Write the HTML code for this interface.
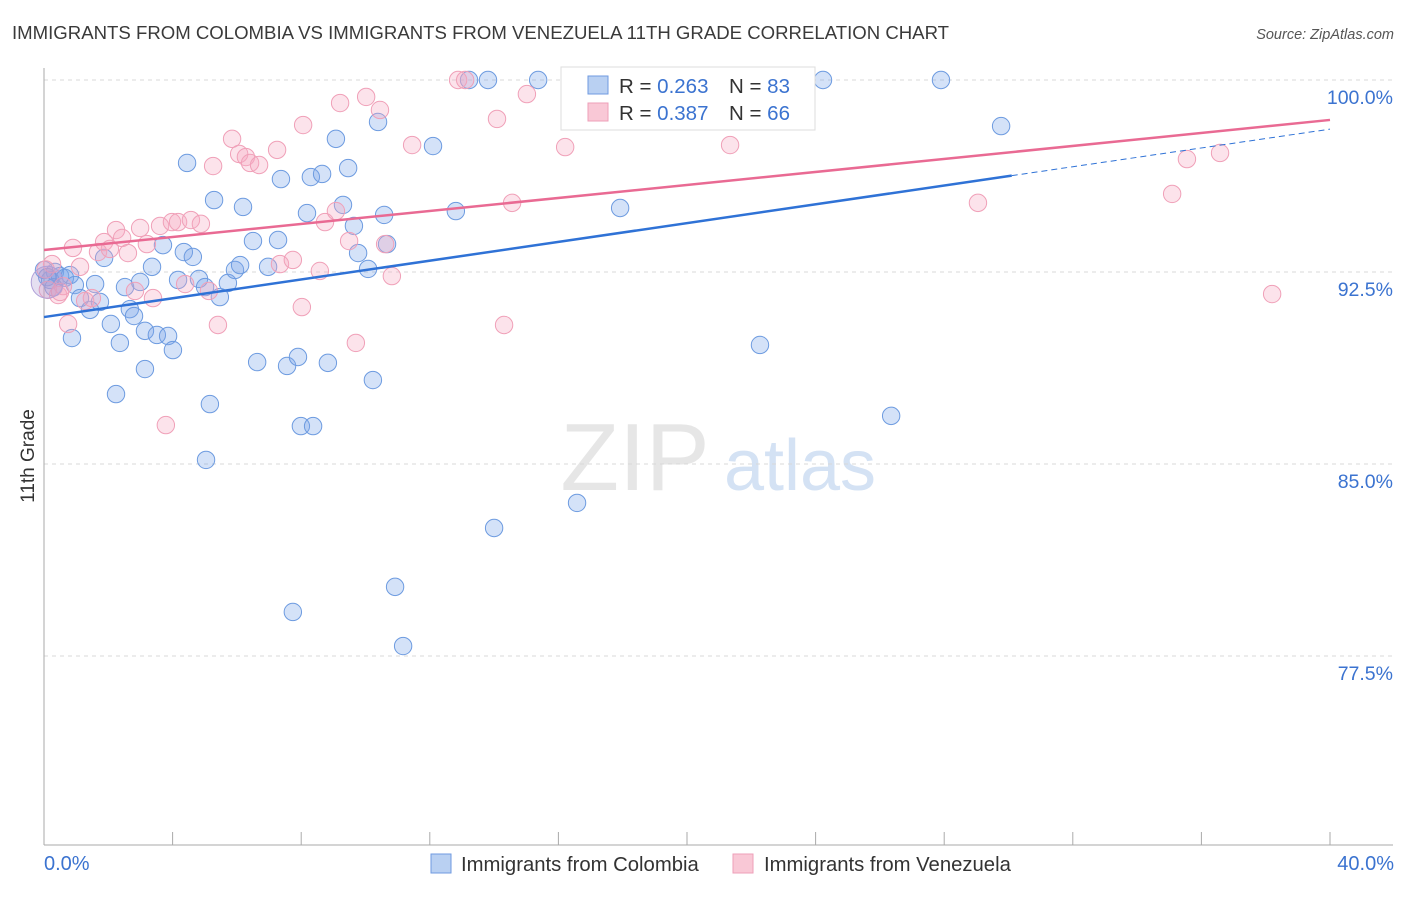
<!DOCTYPE html>
<html><head><meta charset="utf-8"><style>
body{margin:0;background:#fff;font-family:"Liberation Sans",sans-serif;}
svg text{font-family:"Liberation Sans",sans-serif;}
</style></head><body>
<svg id="chart" width="1406" height="892" viewBox="0 0 1406 892" xmlns="http://www.w3.org/2000/svg">
<text x="12" y="39" font-size="18.6" fill="#3a3a3a">IMMIGRANTS FROM COLOMBIA VS IMMIGRANTS FROM VENEZUELA 11TH GRADE CORRELATION CHART</text>
<text x="1394" y="39" font-size="14.5" fill="#555" text-anchor="end" font-style="italic">Source: ZipAtlas.com</text>
<g>
<text x="635" y="490" font-size="96" fill="#e6e6e6" font-family="Liberation Serif,serif" text-anchor="middle">ZIP</text>
<text x="800" y="490" font-size="72" fill="#d4e2f4" text-anchor="middle">atlas</text>
</g>
<g id="grid"></g>
<g id="axes"></g>
<g id="marks"></g>
<g id="lines"></g>
<text transform="translate(34,456) rotate(-90)" font-size="19" fill="#333" text-anchor="middle">11th Grade</text>
<text x="44" y="870" font-size="20" fill="#3b73d0">0.0%</text>
<text x="1394" y="870" font-size="20" fill="#3b73d0" text-anchor="end">40.0%</text>
<g>
<rect x="561" y="67" width="254" height="63" fill="#fff" stroke="#ddd"/>
<rect x="588" y="76" width="20" height="18" fill="#b9d0f2" stroke="#6f9ae0"/>
<rect x="588" y="103" width="20" height="18" fill="#f9c8d6" stroke="#ee9fb8"/>
<text x="619" y="93" font-size="20.5" fill="#333">R = <tspan fill="#3b73d0">0.263</tspan></text>
<text x="729" y="93" font-size="20.5" fill="#333">N = <tspan fill="#3b73d0">83</tspan></text>
<text x="619" y="120" font-size="20.5" fill="#333">R = <tspan fill="#3b73d0">0.387</tspan></text>
<text x="729" y="120" font-size="20.5" fill="#333">N = <tspan fill="#3b73d0">66</tspan></text>
</g>
<g>
<rect x="431" y="854" width="20" height="19" fill="#b9d0f2" stroke="#6f9ae0"/>
<text x="461" y="871" font-size="20.3" fill="#333">Immigrants from Colombia</text>
</g>
<g>
<rect x="733" y="854" width="20" height="19" fill="#f9c8d6" stroke="#ee9fb8"/>
<text x="764" y="871" font-size="20.3" fill="#333">Immigrants from Venezuela</text>
</g>
</svg>
<script>
const blueX=[0.19,0.34,0.5,0.65,0.81,0.96,1.59,1.12,1.43,1.74,0.87,1.87,2.08,2.24,2.36,2.52,2.67,2.8,2.99,3.14,3.36,3.51,3.7,3.86,4.01,3.14,4.17,4.35,4.45,4.63,4.82,5.01,5.16,5.04,5.29,5.47,5.72,5.94,6.1,6.19,6.5,6.63,6.97,7.28,7.37,7.56,7.74,7.9,7.99,8.18,8.37,8.3,8.65,8.83,9.08,9.3,9.46,9.64,9.77,10.08,10.23,10.39,10.58,10.67,10.92,11.17,12.1,12.81,13.22,13.81,14.0,15.37,16.58,17.92,21.65,22.27,24.23,26.35,27.9,29.77,0,0.1,0.3];
const blueY=[92.19,92.5,92.34,92.27,92.38,91.99,92.03,91.48,91.02,91.33,89.92,93.05,90.47,87.73,89.73,91.91,91.05,90.78,92.11,90.2,92.7,90.04,93.55,90.0,89.45,88.71,92.19,93.28,96.76,93.09,92.23,91.91,87.34,85.16,95.31,91.52,92.07,92.58,92.77,95.04,93.71,88.98,92.7,93.75,96.13,88.83,79.22,89.18,86.48,94.8,86.48,96.21,96.33,88.95,97.7,95.12,96.56,94.3,93.24,92.62,88.28,98.36,94.73,93.59,80.2,77.89,97.42,94.88,100,100,82.5,100,83.48,95.0,100,89.65,100,86.88,100,98.2,92.58,92.3,91.9];
const pinkX=[0.12,0.25,0.44,0.59,0.75,0.9,1.12,1.28,1.49,1.68,1.87,2.05,2.24,2.43,2.61,2.83,2.99,3.2,3.39,3.61,3.79,3.98,4.17,4.39,4.57,4.88,5.13,5.26,5.41,5.85,6.07,6.28,6.41,6.69,7.25,7.34,7.74,8.02,8.06,8.58,8.74,9.08,9.21,9.49,9.7,10.02,10.45,10.61,10.82,11.45,12.88,13.1,14.09,14.31,14.56,15.02,16.21,21.34,21.8,29.05,35.09,35.55,36.58,38.2,0.5,0.05];
const pinkY=[91.8,92.81,91.6,91.95,90.47,93.44,92.7,91.37,91.48,93.28,93.67,93.4,94.14,93.83,93.24,91.76,94.22,93.59,91.48,94.3,86.52,94.45,94.45,92.03,94.53,94.38,91.76,96.64,90.43,97.7,97.11,96.99,96.76,96.68,97.27,92.81,92.97,91.13,98.24,92.54,94.45,94.88,99.1,93.71,89.73,99.34,98.83,93.59,92.34,97.46,100,100,98.48,90.43,95.2,99.45,97.38,97.46,100,95.2,95.55,96.91,97.15,91.64,91.72,92.6];
const trendBlue=[90.74,0.1835];   // intercept, slope
const trendPink=[93.36,0.127];
const yTicks=[100,92.5,85,77.5];
const yTickLabels=["100.0%","92.5%","85.0%","77.5%"];
const xTicks=[0,4,8,12,16,20,24,28,32,36,40];

const NS="http://www.w3.org/2000/svg";
const X0=44,X1=1330,Yt=80;
const sx=v=>X0+(v/40)*(X1-X0);
const sy=v=>Yt+(100-v)*25.6;
function mk(tag,attrs,parent){const e=document.createElementNS(NS,tag);for(const k in attrs)e.setAttribute(k,attrs[k]);document.getElementById(parent).appendChild(e);return e;}

yTicks.forEach((t,i)=>{
  const g=mk('line',{x1:X0,x2:1393,y1:sy(t),y2:sy(t),stroke:'#d8d8d8','stroke-dasharray':'4,4'},'grid');
  
  
  const l=mk('text',{x:1393,y:sy(t)+24,'font-size':19.5,fill:'#3b73d0','text-anchor':'end'},'grid');
  l.textContent=yTickLabels[i];
  
  
});
const ya=mk('line',{x1:X0,x2:X0,y1:68,y2:845,stroke:'#aaa'},'axes');


const xa=mk('line',{x1:X0,x2:1393,y1:845,y2:845,stroke:'#aaa'},'axes');


xTicks.forEach(t=>{
  const tk=mk('line',{x1:sx(t),x2:sx(t),y1:832,y2:845,stroke:'#aaa'},'axes');
  
  
});
blueX.forEach((v,i)=>{
  const c=mk('circle',{cx:sx(v),cy:sy(blueY[i]),r:8.7,fill:'rgba(120,165,232,0.32)',stroke:'#6d9be0','stroke-width':1},'marks');
  
  
});
pinkX.forEach((v,i)=>{
  const c=mk('circle',{cx:sx(v),cy:sy(pinkY[i]),r:8.7,fill:'rgba(246,168,192,0.32)',stroke:'#f0a0b8','stroke-width':1},'marks');
  
  
});
const big=mk('circle',{cx:sx(0.1),cy:sy(92.1),r:16,fill:'rgba(170,150,210,0.3)',stroke:'#b0a0d8'},'marks');


const bEnd=30.1;
const bl=mk('line',{x1:sx(0),y1:sy(trendBlue[0]),x2:sx(bEnd),y2:sy(trendBlue[0]+trendBlue[1]*bEnd),stroke:'#2f72d6','stroke-width':2.5},'lines');


const bd=mk('line',{x1:sx(bEnd),y1:sy(trendBlue[0]+trendBlue[1]*bEnd),x2:sx(40),y2:sy(trendBlue[0]+trendBlue[1]*40),stroke:'#2f72d6','stroke-width':1,'stroke-dasharray':'6,4'},'lines');


const pl=mk('line',{x1:sx(0),y1:sy(trendPink[0]),x2:sx(40),y2:sy(trendPink[0]+trendPink[1]*40),stroke:'#e96a93','stroke-width':2.5},'lines');


</script>
</body></html>
